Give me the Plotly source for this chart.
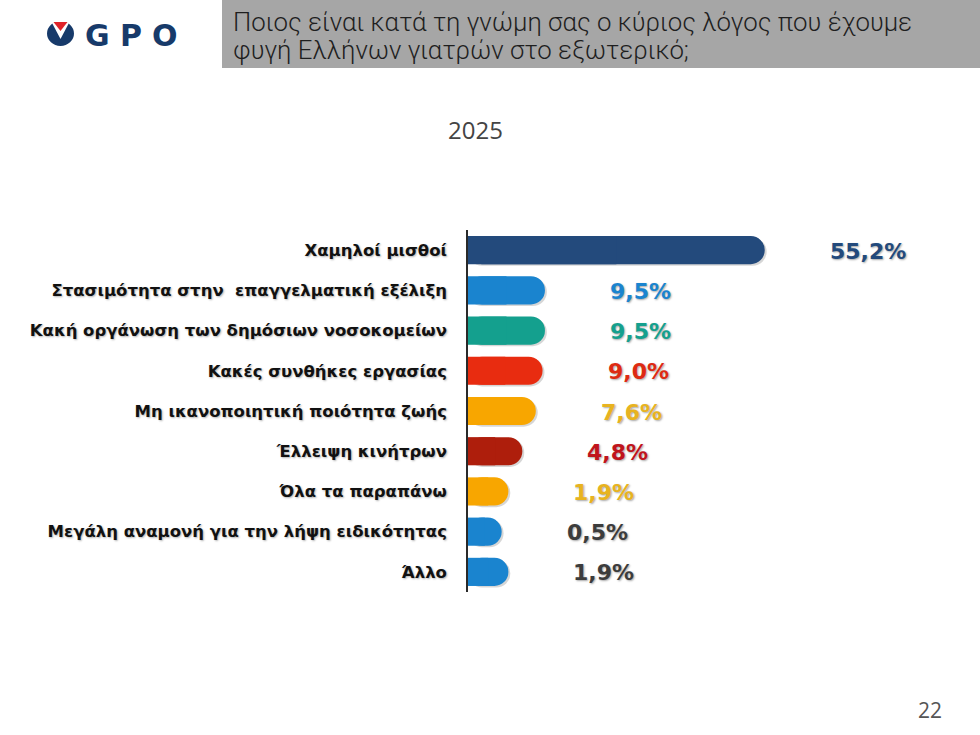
import plotly.graph_objects as go

categories = [
    "Χαμηλοί μισθοί",
    "Στασιμότητα στην  επαγγελματική εξέλιξη",
    "Κακή οργάνωση των δημόσιων νοσοκομείων",
    "Κακές συνθήκες εργασίας",
    "Μη ικανοποιητική ποιότητα ζωής",
    "Έλλειψη κινήτρων",
    "Όλα τα παραπάνω",
    "Μεγάλη αναμονή για την λήψη ειδικότητας",
    "Άλλο",
]
values = [55.2, 9.5, 9.5, 9.0, 7.6, 4.8, 1.9, 0.5, 1.9]
value_labels = ["55,2%", "9,5%", "9,5%", "9,0%", "7,6%", "4,8%", "1,9%", "0,5%", "1,9%"]
bar_colors = ["#234a7c", "#1a84cf", "#14a08e", "#e82c10", "#f8a600",
              "#ae1e0c", "#f8a600", "#1a84cf", "#1a84cf"]
label_colors = ["#234a7c", "#1a84cf", "#14a08e", "#de2a12", "#e8b320",
                "#c0141c", "#e8b320", "#3c3c3c", "#3c3c3c"]
title_lines = ["Ποιος είναι κατά τη γνώμη σας ο κύριος λόγος που έχουμε",
               "φυγή Ελλήνων γιατρών στο εξωτερικό;"]
year_label = "2025"
page_number = "22"

W, H = 980, 735
CAP = 6.5  # bar start left of zero (rounded cap length)
X_MAX = 95.8

def px(x):
    return x / W

def py(y):
    return 1 - y / H

lengths = [v + CAP for v in values]
half = [l / 2 for l in lengths]

fig = go.Figure()
# soft shadow
fig.add_trace(go.Bar(
    y=categories, x=[l + 0.4 for l in lengths], base=-CAP, orientation="h",
    marker=dict(color="rgba(0,0,0,0.16)", cornerradius="50%", line=dict(width=0)),
    width=0.7, offset=-0.31, hoverinfo="skip", showlegend=False,
))
fig.add_trace(go.Bar(
    y=categories, x=lengths, base=-CAP, orientation="h",
    marker=dict(color=bar_colors, cornerradius="50%", line=dict(width=0)),
    width=0.7, showlegend=False, hoverinfo="skip",
))
fig.add_trace(go.Bar(
    y=categories, x=half, base=-CAP, orientation="h",
    marker=dict(color=bar_colors, line=dict(width=0)),
    width=0.7, showlegend=False,
    customdata=values, hovertemplate="%{y}: %{customdata}%<extra></extra>",
))

annotations = []
for c, v, t, col in zip(categories, values, value_labels, label_colors):
    annotations.append(dict(
        x=v, y=c, xref="x", yref="y", text=f"<b>{t}</b>", showarrow=False,
        xanchor="left", yanchor="middle", xshift=63, yshift=-1,
        font=dict(family="DejaVu Sans", size=22, color=col,
                  shadow="1px 1px 2px rgba(0,0,0,0.35)"),
    ))

# title banner text (two lines)
for line, yc in zip(title_lines, [22, 50]):
    annotations.append(dict(
        x=px(231), y=py(yc), xref="paper", yref="paper", xanchor="left", yanchor="middle",
        align="left", showarrow=False, text=line,
        font=dict(family="Roboto, sans-serif", size=25.8, color="#1e1e1e", weight=300),
    ))
# year
annotations.append(dict(
    x=px(475), y=py(129), xref="paper", yref="paper", xanchor="center", yanchor="middle",
    showarrow=False, text=year_label,
    font=dict(family="Open Sans, sans-serif", size=24, color="#444444"),
))
# page number
annotations.append(dict(
    x=px(930), y=py(710), xref="paper", yref="paper", xanchor="center", yanchor="middle",
    showarrow=False, text=page_number,
    font=dict(family="Open Sans, sans-serif", size=21, color="#555555"),
))
# logo letters
for letter, cx in zip(["G", "P", "O"], [97, 131, 165]):
    annotations.append(dict(
        x=px(cx), y=py(35), xref="paper", yref="paper", xanchor="center", yanchor="middle",
        showarrow=False, text=f"<b>{letter}</b>",
        font=dict(family="DejaVu Sans", size=30, color="#173a6a"),
    ))

shapes = [
    dict(type="rect", xref="paper", yref="paper", x0=px(222), x1=1, y0=py(68), y1=1,
         fillcolor="#a6a6a6", line=dict(width=0), layer="below"),
    dict(type="circle", xref="paper", yref="paper", x0=px(47), x1=px(74), y0=py(46), y1=py(21),
         fillcolor="#173a6a", line=dict(width=0)),
    dict(type="path", xref="paper", yref="paper",
         path=f"M {px(51)} {py(21)} L {px(70)} {py(21)} L {px(60.5)} {py(39)} Z",
         fillcolor="#ffffff", line=dict(width=0)),
    dict(type="path", xref="paper", yref="paper",
         path=f"M {px(53.5)} {py(22)} L {px(67.5)} {py(22)} L {px(60.5)} {py(31)} Z",
         fillcolor="#e0242a", line=dict(width=0)),
]

fig.update_layout(
    width=W, height=H, margin=dict(l=0, r=0, t=0, b=0),
    paper_bgcolor="white", plot_bgcolor="white",
    barmode="overlay", showlegend=False,
    xaxis=dict(domain=[px(468), px(960)], range=[-CAP, X_MAX], visible=False,
               fixedrange=True),
    yaxis=dict(domain=[py(592), py(230)], autorange="reversed",
               showline=True, linecolor="#2a2a2a", linewidth=1.5,
               ticks="", ticklabelstandoff=16, showgrid=False,
               tickfont=dict(family="DejaVu Sans", size=16.5, color="#111111",
                             weight="bold", shadow="1px 1px 2px rgba(0,0,0,0.3)"),
               fixedrange=True),
    annotations=annotations, shapes=shapes,
)

fig.write_html("out.html")
